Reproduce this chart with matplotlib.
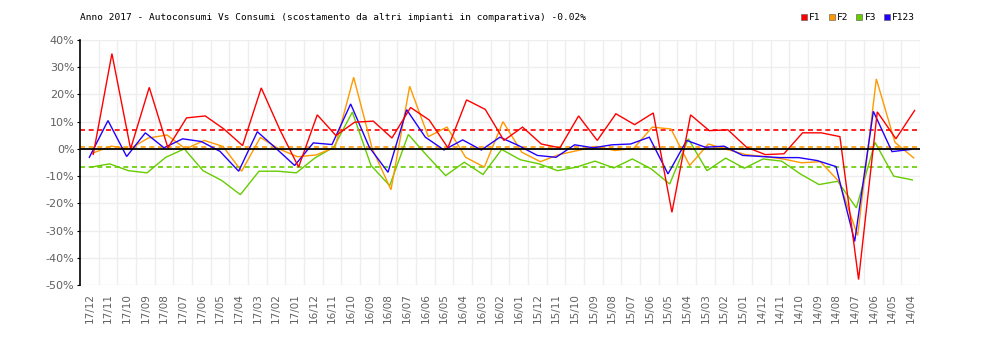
import matplotlib
matplotlib.use("Agg")
import matplotlib.pyplot as plt
from matplotlib.lines import Line2D
import numpy as np

# Monthly deviation (%) of self-consumption vs consumption, newest month first
months = [
    "17/12", "17/11", "17/10", "17/09", "17/08", "17/07", "17/06", "17/05", "17/04",
    "17/03", "17/02", "17/01", "16/12", "16/11", "16/10", "16/09", "16/08", "16/07",
    "16/06", "16/05", "16/04", "16/03", "16/02", "16/01", "15/12", "15/11", "15/10",
    "15/09", "15/08", "15/07", "15/06", "15/05", "15/04", "15/03", "15/02", "15/01",
    "14/12", "14/11", "14/10", "14/09", "14/08", "14/07", "14/06", "14/05", "14/04",
]

f1 = [-2.0, 35.0, 0.0, 22.6, 0.4, 11.4, 12.1, 7.3, 1.2, 22.4, 7.0, -6.7, 12.5, 4.9, 9.8,
      10.2, 4.0, 15.2, 10.6, 0.4, 18.0, 14.5, 3.1, 8.0, 1.8, 0.4, 12.1, 3.1, 12.9, 8.9,
      13.2, -23.3, 12.5, 6.7, 7.0, 0.6, -2.1, -1.8, 5.9, 5.9, 4.5, -48.0, 13.6, 3.7, 14.1]

f2 = [-1.6, 1.0, 0.0, 4.0, 5.1, 0.0, 3.1, 0.9, -8.2, 4.2, 0.0, -2.9, -2.2, 0.6, 26.3,
      0.0, -15.0, 23.0, 4.5, 8.0, -3.1, -6.7, 10.0, -1.2, -4.7, -2.1, -0.6, 0.9, -0.6, 0.2,
      8.0, 7.3, -6.1, 1.8, -0.2, -2.1, -2.8, -3.7, -5.1, -4.7, -12.0, -31.8, 25.7, 2.4, -3.3]

f3 = [-6.7, -5.5, -8.0, -8.8, -3.1, 0.0, -8.0, -11.6, -16.8, -8.2, -8.2, -8.8, -3.3, 0.6, 13.5,
      -6.1, -13.5, 5.3, -2.5, -9.8, -4.9, -9.4, -0.2, -4.0, -5.5, -8.0, -6.7, -4.5, -7.0, -3.7,
      -7.3, -12.9, 3.7, -8.0, -3.4, -7.1, -3.7, -4.5, -9.2, -13.1, -11.9, -21.7, 2.4, -10.0, -11.4]

f123 = [-3.1, 10.4, -2.8, 5.9, 0.4, 3.7, 2.7, -0.9, -8.2, 6.3, 0.2, -6.1, 2.2, 1.6, 16.5,
        0.6, -8.6, 14.4, 4.3, -0.4, 3.3, -0.4, 4.3, 1.2, -2.4, -3.1, 1.5, 0.4, 1.5, 1.8,
        4.3, -9.2, 3.1, 0.6, 1.0, -2.4, -2.8, -3.2, -3.2, -4.3, -6.5, -34.0, 13.8, -1.0, -0.2]

# Reference levels per band
avg_f1 = 6.8
avg_f2 = 0.8
avg_f3 = -6.5

series_names = ["F1", "F2", "F3", "F123"]
title = "Anno 2017 - Autoconsumi Vs Consumi (scostamento da altri impianti in comparativa) -0.02%"

colors = {"F1": "#ff0000", "F2": "#ff9900", "F3": "#66cc00", "F123": "#2200ff"}
shift = {"F1": 0.21, "F2": 0.16, "F3": 0.09, "F123": 0.0}
zorders = {"F3": 3, "F2": 4, "F123": 5, "F1": 6}
mono = "DejaVu Sans Mono"

fig = plt.figure(figsize=(10, 3.4), dpi=100)
ax = fig.add_axes([0.08, 1 - 285 / 340, 0.84, 245 / 340])

x = np.arange(len(months))
values = {"F1": f1, "F2": f2, "F3": f3, "F123": f123}
for name in ["F3", "F2", "F123", "F1"]:
    ax.plot(x + shift[name], values[name], color=colors[name], lw=1.0,
            zorder=zorders[name], solid_joinstyle="miter")

ax.axhline(0, color="black", lw=1.3, zorder=7)
for lvl, name in [(avg_f1, "F1"), (avg_f2, "F2"), (avg_f3, "F3")]:
    ax.axhline(lvl, color=colors[name], lw=1.2, ls=(0, (3, 2.2)), zorder=2.5)

ax.set_xlim(-0.5, len(months) - 0.5)
ax.set_ylim(-50, 40)
yt = np.arange(-50, 41, 10)
ax.set_yticks(yt)
ax.set_yticklabels([f"{v}%" for v in yt])
ax.set_xticks(x)
ax.set_xticklabels(months, rotation=90)
ax.set_xticks(np.arange(0.5, len(months), 1), minor=True)

ax.grid(False)
ax.yaxis.grid(True, color="#eeeeee", lw=1.0, zorder=0)
ax.xaxis.grid(True, which="minor", color="#eeeeee", lw=1.0, zorder=0)
ax.set_axisbelow(True)

for side in ["top", "right", "bottom"]:
    ax.spines[side].set_visible(False)
ax.spines["left"].set_color("black")
ax.spines["left"].set_linewidth(1.2)

ax.tick_params(axis="y", length=2, width=0.8, color="black", pad=2,
               labelsize=8, labelcolor="#606060")
ax.tick_params(axis="x", which="both", length=0, pad=6,
               labelsize=7.5, labelcolor="#606060")

fig.text(0.08, 1 - 18 / 340, title, family=mono, fontsize=6.8,
         va="center", ha="left", color="black")

handles = [Line2D([], [], ls="none", marker="s", markersize=5,
                  markerfacecolor=colors[n], markeredgecolor="#555555",
                  markeredgewidth=0.4) for n in series_names]
fig.legend(handles, series_names, loc="center right",
           bbox_to_anchor=(0.915, 1 - 18 / 340), ncol=4, frameon=False,
           handlelength=0.7, handletextpad=0.2, columnspacing=0.8,
           borderaxespad=0, borderpad=0, prop={"family": mono, "size": 6.8})

fig.savefig("out.png", dpi=100)
